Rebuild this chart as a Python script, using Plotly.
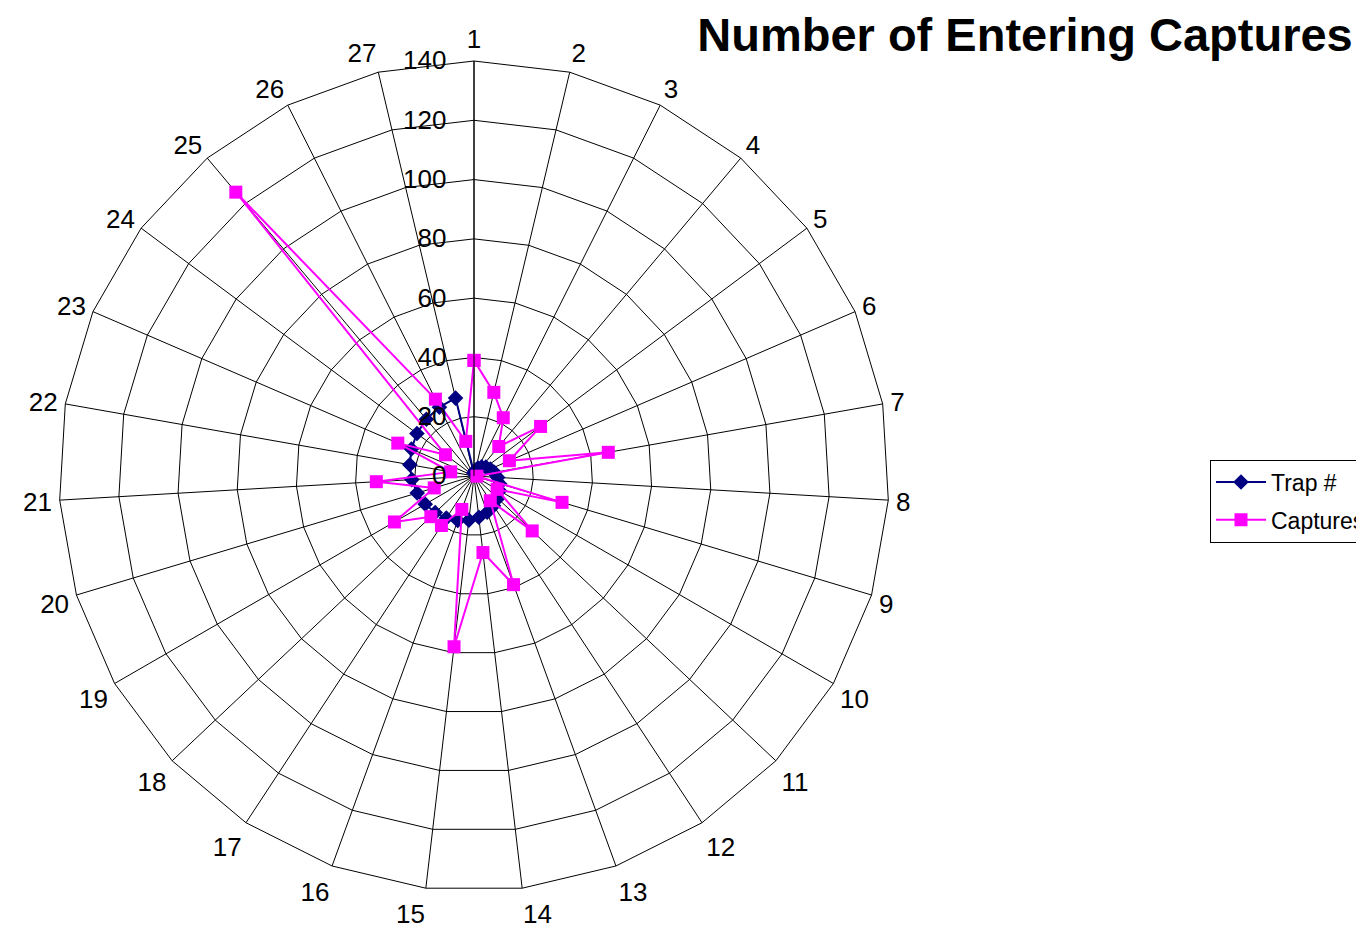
import plotly.graph_objects as go

categories = ["1", "2", "3", "4", "5", "6", "7", "8", "9", "10", "11", "12", "13", "14",
              "15", "16", "17", "18", "19", "20", "21", "22", "23", "24", "25", "26", "27"]
trap_numbers = [1, 2, 3, 4, 5, 6, 7, 8, 9, 10, 11, 12, 13, 14, 15, 16, 17, 18, 19, 20,
                21, 22, 23, 24, 25, 26, 27]
captures = [39, 29, 22, 13, 28, 13, 46, 1, 31, 9, 27, 10, 39, 26, 58, 12, 20, 20, 31, 14,
            33, 8, 28, 12, 125, 29, 12]
radial_ticks = [0, 20, 40, 60, 80, 100, 120, 140]

FONT = "Liberation Sans, Arial, sans-serif"

def closed(vals):
    return list(vals) + [vals[0]]

fig = go.Figure()
fig.add_trace(go.Scatterpolar(
    r=closed(trap_numbers), theta=closed(categories), name="Trap #",
    mode="lines+markers", legendgroup="a",
    line=dict(color="#000080", width=2),
    marker=dict(symbol="diamond", size=12, color="#000080"),
))
fig.add_trace(go.Scatterpolar(
    r=closed(captures), theta=closed(categories), name="Captures",
    mode="lines+markers", legendgroup="b",
    line=dict(color="#FF00FF", width=2),
    marker=dict(symbol="square", size=13, color="#FF00FF"),
))

W, H = 1364, 932
OFF = 8  # page body margin
cx, cy, R = 474 - OFF, 476 - OFF, 415
fig.update_layout(
    width=W, height=H,
    margin=dict(l=0, r=0, t=0, b=0),
    paper_bgcolor="white",
    font=dict(family=FONT, color="black", size=26),
    title=dict(text="<b>Number of Entering Captures</b>", x=(1025 - OFF) / W, xanchor="center",
               y=1 - (35 - OFF) / H, yanchor="middle", font=dict(family=FONT, size=47, color="black")),
    polar=dict(
        domain=dict(x=[(cx - R) / W, (cx + R) / W], y=[(H - cy - R) / H, (H - cy + R) / H]),
        bgcolor="white",
        gridshape="linear",
        angularaxis=dict(
            direction="clockwise", rotation=90, type="category",
            categoryorder="array", categoryarray=categories,
            showline=True, linecolor="black", linewidth=1,
            showgrid=True, gridcolor="black", gridwidth=1,
            ticks="outside", ticklen=2, tickcolor="rgba(0,0,0,0)",
            tickfont=dict(size=26, family=FONT, color="black"),
        ),
        radialaxis=dict(
            range=[0, 140], tickvals=radial_ticks, angle=90, side="counterclockwise",
            showline=True, linecolor="black", linewidth=1,
            showgrid=True, gridcolor="black", gridwidth=1,
            ticks="outside", ticklen=18, tickcolor="rgba(0,0,0,0)",
            tickfont=dict(size=26, family=FONT, color="black"),
            tickangle=90,
        ),
    ),
    legend=dict(
        x=(1210 - OFF) / W, xanchor="left", y=1 - (501 - OFF) / H, yanchor="middle",
        bordercolor="black", borderwidth=1, bgcolor="white",
        font=dict(family=FONT, size=23, color="black"),
        itemwidth=50, tracegroupgap=5,
    ),
    showlegend=True,
)

fig.write_html("out.html")
